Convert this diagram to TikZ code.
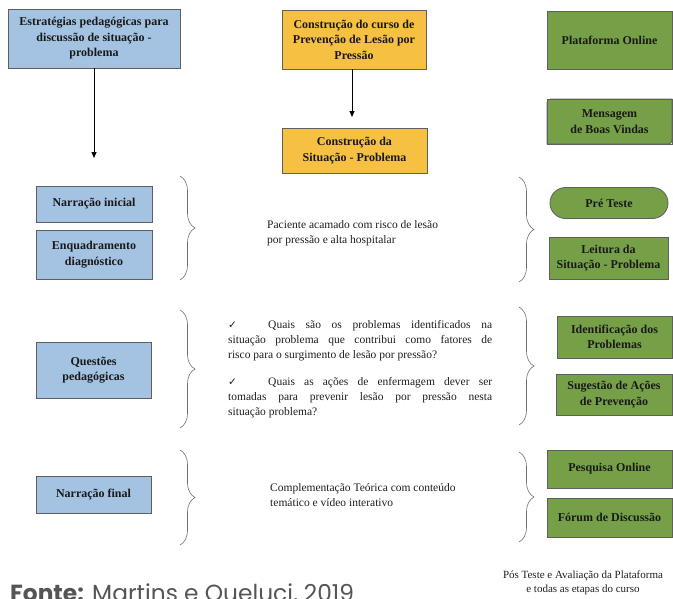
\documentclass[tikz,border=0pt]{standalone}
\usepackage{fontspec}
\setmainfont{Liberation Serif}
\newfontfamily\fontefont{Poppins}
\newfontfamily\symfont{DejaVu Sans}
\usetikzlibrary{arrows.meta,decorations.pathreplacing,shapes.misc}
\definecolor{bluefill}{RGB}{164,194,226}
\definecolor{orangefill}{RGB}{246,192,66}
\definecolor{greenfill}{RGB}{118,160,72}
\definecolor{boxline}{RGB}{95,95,95}
\definecolor{bracecol}{RGB}{110,110,110}
\definecolor{plaintext}{RGB}{30,30,30}
\definecolor{fontegray}{RGB}{85,85,85}
\tikzset{
  box/.style={draw=boxline, line width=0.8pt, align=center, inner sep=0pt,
    font=\fontsize{12}{15.5}\selectfont\bfseries, text=black!90},
  bluebox/.style={box, fill=bluefill},
  orangebox/.style={box, fill=orangefill},
  greenbox/.style={box, fill=greenfill},
  sz/.style 2 args={minimum width=#1pt, minimum height=#2pt},
  bracedeco/.style={draw=bracecol, line width=0.6pt,
    decorate, decoration={brace, amplitude=15pt}},
  arr/.style={-{Triangle[length=6pt,width=5pt]}, line width=0.8pt, black},
  plain/.style={align=left, inner sep=0pt, text=plaintext,
    font=\fontsize{11.5}{15}\selectfont},
}
\begin{document}
\begin{tikzpicture}[x=1pt,y=-1pt]
\useasboundingbox (0,0) rectangle (673,598);

% top row
\node[bluebox, sz={172}{59}] (b1) at (94,38.5) {Estratégias pedagógicas para\\discussão de situação -\\problema};
\node[orangebox, sz={144}{59}] (o1) at (354,39.5) {Construção do curso de\\Prevenção de Lesão por\\Pressão};
\node[orangebox, sz={145}{45}] (o2) at (354.5,150.5) {Construção da\\Situação - Problema};
\node[greenbox, sz={125}{58}] (g1) at (609.5,40) {Plataforma Online};

% Mensagem (round diagonal corners)
\draw[draw=boxline, line width=0.8pt, fill=greenfill]
  (547,144) -- (547,107) .. controls (547,99) .. (555,99) -- (672,99)
  -- (672,136) .. controls (672,144) .. (664,144) -- cycle;
\node[box, sz={125}{45}] (msg) at (609.5,121.5) {Mensagem\\de Boas Vindas};

% arrows
\coordinate (a1end) at (94,158);
\coordinate (a2end) at (352,117);
\draw[arr] (a1end |- b1.south) -- (a1end);
\draw[arr] (a2end |- o1.south) -- (a2end);

% row 1
\node[bluebox, sz={116}{36}] (n1) at (94,204) {Narração inicial};
\node[bluebox, sz={116}{49}] (n2) at (94,254.5) {Enquadramento\\diagnóstico};
\draw[bracedeco] (180,176) -- (180,280);
\node[plain, anchor=west] (t1) at (267,233) {Paciente acamado com risco de lesão\\por pressão e alta hospitalar};
\draw[bracedeco] (519,177) -- (519,282);
\node[greenbox, sz={118}{31}, rounded corners=15.5pt] (pre) at (609,203) {Pré Teste};
\node[greenbox, sz={119}{42}] (leit) at (608.5,258) {Leitura da\\Situação - Problema};

% row 2
\node[bluebox, sz={115}{56}] (q) at (93.5,370) {Questões\\pedagógicas};
\draw[bracedeco] (180,310) -- (180,428);
\node[plain, anchor=north west, text width=264pt, align=justify] (t2) at (228,320) {%
\makebox[40pt][l]{\symfont\fontsize{10.5}{14}\selectfont ✓}Quais são os problemas identificados na\linebreak
situação problema que contribui como fatores de\linebreak
risco para o surgimento de lesão por pressão?\par\vspace{12pt}
\makebox[40pt][l]{\symfont\fontsize{10.5}{14}\selectfont ✓}Quais as ações de enfermagem dever ser\linebreak
tomadas para prevenir lesão por pressão nesta\linebreak
situação problema?};
\draw[bracedeco] (519,307) -- (519,425);
\node[greenbox, sz={115}{42}] (ident) at (614.5,337) {Identificação dos\\Problemas};
\node[greenbox, sz={116}{41}] (sug) at (614,394.5) {Sugestão de Ações\\de Prevenção};

% row 3
\node[bluebox, sz={115}{37}] (nf) at (93.5,494.5) {Narração final};
\draw[bracedeco] (180,450) -- (180,545);
\node[plain, anchor=west] (t3) at (270,495) {Complementação Teórica com conteúdo\\temático e vídeo interativo};
\draw[bracedeco] (519,452) -- (519,542);
\node[greenbox, sz={125}{38}] (pesq) at (609.5,469) {Pesquisa Online};
\node[greenbox, sz={125}{39}] (forum) at (609.5,517.5) {Fórum de Discussão};

% footer
\node[plain, align=center, font=\fontsize{11}{14.5}\selectfont] (t4) at (583,583) {Pós Teste e Avaliação da Plataforma\\e todas as etapas do curso};
\node[anchor=base west, inner sep=0pt, text=fontegray, font=\fontefont\fontsize{23.3}{27}\selectfont] (fonte) at (10,601) {\textbf{Fonte:} Martins e Queluci, 2019};
\end{tikzpicture}
\end{document}
